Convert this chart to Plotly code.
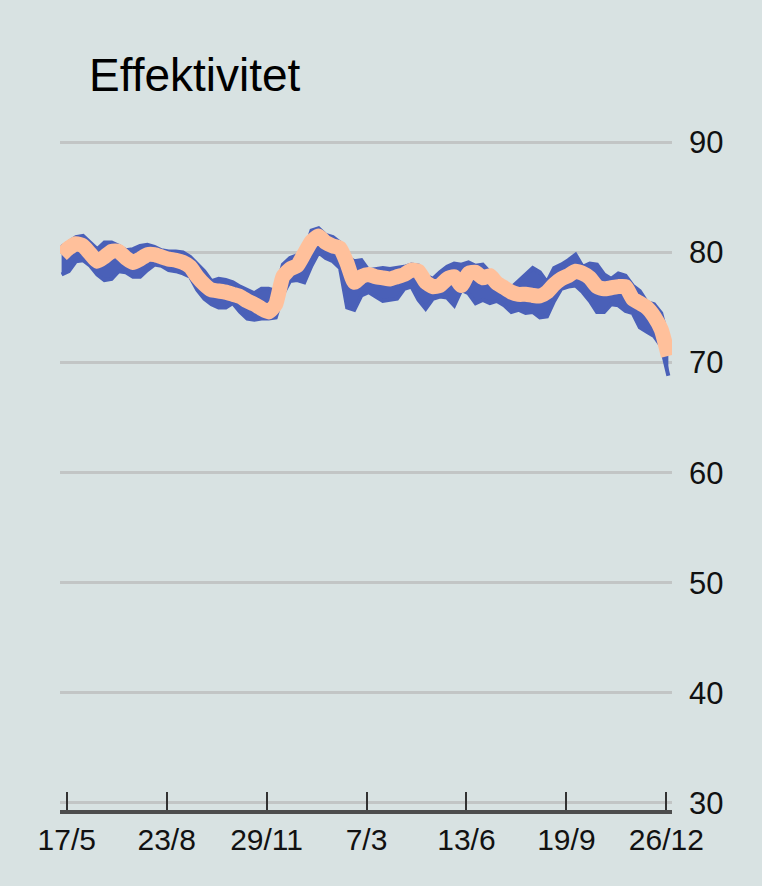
import pandas as pd
import plotly.graph_objects as go

# Weekly observation dates
week_start = "2021-05-12"
n_weeks = 86
dates = pd.date_range(week_start, periods=n_weeks, freq="7D")

# Smoothed efficiency (orange)
smoothed = [
    79.8, 80.4, 80.8, 80.6, 79.9, 79.2, 79.6, 80.1, 80.1, 79.5,
    79.1, 79.4, 79.8, 79.8, 79.6, 79.4, 79.3, 79.1, 78.7, 77.8,
    77.1, 76.6, 76.5, 76.4, 76.2, 76.0, 75.6, 75.3, 74.9, 74.6,
    75.3, 77.8, 78.5, 78.8, 79.9, 81.0, 81.5, 80.9, 80.6, 80.4,
    79.0, 77.3, 77.8, 78.0, 77.8, 77.7, 77.6, 77.8, 78.0, 78.4,
    78.3, 77.3, 76.9, 77.0, 77.6, 77.8, 77.0, 78.1, 78.2, 77.7,
    77.9, 77.2, 76.8, 76.4, 76.2, 76.2, 76.1, 76.05, 76.4, 77.1,
    77.6, 77.9, 78.3, 78.1, 77.7, 76.9, 76.7, 76.8, 76.9, 76.9,
    75.8, 75.4, 75.0, 74.2, 73.0, 70.6,
]

# Daily efficiency (blue) - weekly high and low
daily_high = [
    80.5, 81.0, 81.4, 81.5, 80.9, 80.3, 80.9, 80.9, 80.6, 80.2,
    80.3, 80.6, 80.7, 80.5, 80.2, 80.1, 80.1, 80.0, 79.6, 79.0,
    78.3, 77.4, 77.6, 77.5, 77.3, 76.9, 76.6, 76.3, 76.7, 76.7,
    76.5, 78.9, 79.5, 79.8, 80.0, 82.0, 82.2, 81.6, 81.4, 80.9,
    79.6, 79.2, 79.3, 78.4, 78.5, 78.6, 78.5, 78.6, 78.7, 78.9,
    78.8, 77.9, 77.6, 78.2, 78.7, 79.0, 78.9, 79.1, 78.8, 78.9,
    78.2, 77.7, 77.3, 76.8, 77.4, 78.0, 78.6, 78.2, 77.3, 78.6,
    78.9, 79.3, 79.8, 78.7, 79.0, 78.9, 78.0, 77.6, 78.1, 77.9,
    77.0, 76.5, 75.5, 75.3, 74.5, 72.0,
]
daily_low = [
    78.0, 78.3, 79.2, 79.3, 78.8, 78.0, 77.5, 77.6, 78.3, 78.2,
    77.8, 77.8, 78.4, 78.9, 78.8, 78.4, 78.3, 78.1, 77.8, 76.6,
    75.8, 75.3, 75.0, 75.0, 75.4, 74.6, 74.0, 73.9, 74.0, 74.0,
    74.1, 76.2, 77.4, 77.5, 77.3, 78.8, 80.0, 79.5, 79.2, 78.6,
    75.0, 74.8, 76.1, 76.4, 76.0, 75.6, 75.7, 75.8, 76.7, 76.9,
    75.7, 74.9, 75.8, 76.0, 75.9, 75.2, 76.6, 76.3, 75.4, 75.7,
    75.4, 75.6, 75.2, 74.6, 74.8, 74.5, 74.6, 74.1, 74.2, 75.6,
    76.7, 76.9, 77.0, 76.4, 75.6, 74.6, 74.6, 75.3, 75.2, 74.7,
    74.5, 73.2, 72.8, 72.4, 71.5, 68.8,
]

# Axis ticks
tick_dates = ["2021-05-17", "2021-08-23", "2021-11-29", "2022-03-07",
              "2022-06-13", "2022-09-19", "2022-12-26"]
tick_labels = ["17/5", "23/8", "29/11", "7/3", "13/6", "19/9", "26/12"]
y_ticks = [30, 40, 50, 60, 70, 80, 90]

title_text = "Effektivitet"

BG = "#d8e2e2"
BLUE = "#4a60b8"
ORANGE = "#ffc09b"
FONT = "Liberation Sans, Arial, sans-serif"

fig = go.Figure()
fig.add_trace(go.Scatter(x=dates, y=daily_low, mode="lines",
                         line=dict(color=BLUE, width=4), hoverinfo="skip",
                         showlegend=False))
fig.add_trace(go.Scatter(x=dates, y=daily_high, mode="lines",
                         line=dict(color=BLUE, width=4), fill="tonexty",
                         fillcolor=BLUE, hoverinfo="skip", showlegend=False))
fig.add_trace(go.Scatter(x=dates, y=smoothed, mode="lines",
                         line=dict(color=ORANGE, width=15, shape="spline",
                                   smoothing=0.5),
                         showlegend=False))

fig.add_annotation(text=title_text, xref="paper", yref="paper",
                   x=0.044, y=1.094, xanchor="left", yanchor="middle",
                   showarrow=False, font=dict(family=FONT, size=46, color="#000"))

fig.update_layout(
    width=762, height=886,
    margin=dict(l=60, r=90, t=138, b=76),
    paper_bgcolor=BG, plot_bgcolor=BG,
    font=dict(family=FONT, size=30, color="#111"),
)
fig.update_xaxes(
    type="date",
    range=["2021-05-10 10:00", "2022-12-31 14:00"],
    tickvals=tick_dates, ticktext=tick_labels,
    ticks="inside", ticklen=18, tickwidth=2, tickcolor="#333",
    showline=True, linecolor="#4d4d4d", linewidth=4,
    showgrid=False, zeroline=False,
    tickfont=dict(family=FONT, size=30, color="#111"),
    ticklabelstandoff=0,
)
fig.update_yaxes(
    side="right", range=[29.36, 90.4],
    tickvals=y_ticks, ticks="",
    showgrid=True, gridcolor="#c2c5c5", gridwidth=2.5,
    zeroline=False, showline=False,
    tickfont=dict(family=FONT, size=31, color="#111"),
    ticklabelstandoff=16,
)

fig.write_html("out.html",
               config={"displayModeBar": False},
               post_script="document.body.style.margin='0';document.body.style.background='" + BG + "';")
